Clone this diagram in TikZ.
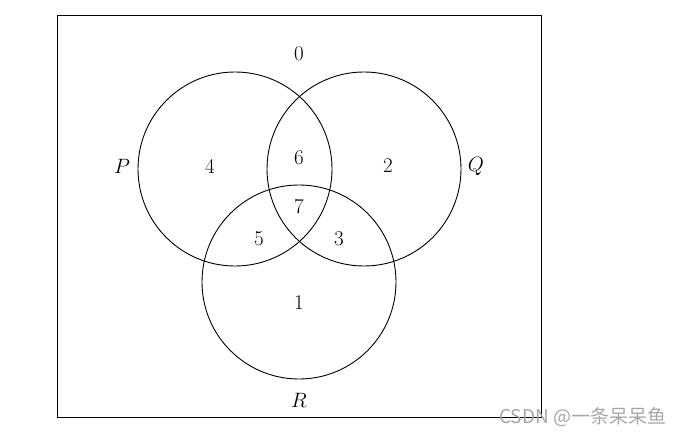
\documentclass[tikz,border=0pt]{standalone}
\usepackage{fontspec}
\newfontfamily\cjk{Noto Sans CJK SC}
\begin{document}
\begin{tikzpicture}[x=1pt,y=-1pt,
  setc/.style={draw=black,line width=0.9pt},
  lbl/.style={font=\fontsize{21}{25}\selectfont,inner sep=0pt},
  wm/.style={font=\cjk\fontsize{19}{22}\selectfont,text=black!35,inner sep=0pt,anchor=west}]
\useasboundingbox (0,0) rectangle (685,438);
\draw[line width=1pt] (57,16) rectangle (541,417);
\draw[setc] (235,169) circle (97);
\draw[setc] (364,169) circle (97);
\draw[setc] (299,282) circle (97);
\node[lbl] (n0) at (299,54) {0};
\node[lbl] (nP) at (122,166) {$P$};
\node[lbl] (nQ) at (476,166) {$Q$};
\node[lbl] (nR) at (299,400) {$R$};
\node[lbl] (n4) at (210,166) {4};
\node[lbl] (n6) at (299,158) {6};
\node[lbl] (n2) at (388,166) {2};
\node[lbl] (n7) at (299,207) {7};
\node[lbl] (n5) at (259,239) {5};
\node[lbl] (n3) at (339,239) {3};
\node[lbl] (n1) at (299,303) {1};
\node[wm] (wm) at (499,417) {CSDN @一条呆呆鱼};
\end{tikzpicture}
\end{document}
